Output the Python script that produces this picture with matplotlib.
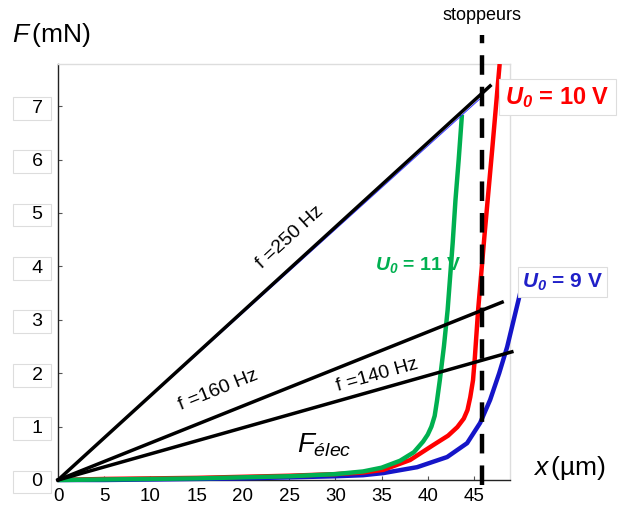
import matplotlib
matplotlib.use("Agg")
import matplotlib.pyplot as plt

plt.rcParams['font.family'] = ['Liberation Sans', 'DejaVu Sans']
plt.rcParams['mathtext.fontset'] = 'custom'
plt.rcParams['mathtext.rm'] = 'Liberation Sans'
plt.rcParams['mathtext.it'] = 'Liberation Sans:italic'
plt.rcParams['mathtext.bf'] = 'Liberation Sans:bold:italic'

# ---- data ----
x_ticks = [0, 5, 10, 15, 20, 25, 30, 35, 40, 45]
y_ticks = [0, 1, 2, 3, 4, 5, 6, 7]

# U0 = 11 V (green)
x_11 = [0, 5, 10, 15, 20, 25, 30, 33, 35, 37, 38.5, 39.5, 40.0, 40.4, 40.75, 41.0, 41.3, 41.75, 42.15, 42.7, 43.0, 43.35, 43.7]
y_11 = [0, 0.01, 0.02, 0.03, 0.05, 0.07, 0.11, 0.16, 0.23, 0.36, 0.52, 0.72, 0.85, 1.0, 1.2, 1.48, 1.86, 2.5, 3.18, 4.44, 5.24, 6.0, 6.84]

# U0 = 10 V (red)
x_10 = [0, 5, 10, 15, 20, 25, 30, 33, 35.2, 38.1, 40.6, 42.2, 43.2, 43.9, 44.3, 44.6, 44.9, 45.1, 45.45, 46.16, 46.97, 47.78]
y_10 = [0, 0.02, 0.03, 0.04, 0.06, 0.08, 0.11, 0.14, 0.19, 0.375, 0.655, 0.83, 0.99, 1.15, 1.31, 1.55, 1.87, 2.3, 3.18, 4.62, 6.18, 7.79]

# U0 = 9 V (blue)
x_9 = [0, 5, 10, 15, 20, 25, 30, 33, 35.2, 38.85, 42.1, 44.26, 45.67, 46.75, 47.73, 48.59, 50.0]
y_9 = [0, 0.0, 0.01, 0.02, 0.03, 0.05, 0.07, 0.09, 0.13, 0.24, 0.43, 0.69, 1.07, 1.5, 2.0, 2.49, 3.5]

# mechanical restoring lines (start at origin)
f_labels = ['f =250 Hz', 'f =160 Hz', 'f =140 Hz']
f_x_end = [46.75, 48.05, 49.1]
f_y_end = [7.38, 3.33, 2.40]
# thin blue trace under the 250 Hz line
thin_x = [0, 45.6]
thin_y = [0, 7.13]

stopper_x = 45.9

# ---- figure ----
fig = plt.figure(figsize=(6.23, 5.08), dpi=100)
ax = fig.add_axes([58/623, 1 - 480/508, (510-58)/623, (480-64)/508])
ax.set_xlim(0, 48.9)
ax.set_ylim(0, 7.79)

for s in ['left', 'bottom']:
    ax.spines[s].set_color('#222222')
    ax.spines[s].set_linewidth(1.0)
for s in ['top', 'right']:
    ax.spines[s].set_color('#dddddd')
    ax.spines[s].set_linewidth(1.0)

ax.set_xticks(x_ticks)
ax.set_xticklabels([str(v) for v in x_ticks])
ax.set_yticks(y_ticks)
ax.set_yticklabels(['   %d ' % v for v in y_ticks])
ax.tick_params(axis='both', direction='in', length=3, width=0.8, color='#555555')
ax.tick_params(axis='x', labelsize=13.5, pad=6)
ax.tick_params(axis='y', labelsize=14, pad=7)
for lab in ax.get_yticklabels():
    lab.set_bbox(dict(boxstyle='square,pad=0.15', facecolor='white', edgecolor='#dddddd', linewidth=0.8))

# curves
kw = dict(lw=3.2, solid_capstyle='butt', solid_joinstyle='round')
ax.plot(x_9, y_9, color='#1515c8', clip_on=False, zorder=3, **kw)
ax.plot(x_10, y_10, color='#ff0000', clip_on=True, zorder=3.1, **kw)
ax.plot(x_11, y_11, color='#00b050', clip_on=False, zorder=3.2, **kw)

ax.plot(thin_x, thin_y, color='#3030ff', lw=0.7, zorder=3.5)
for xe, ye in zip(f_x_end, f_y_end):
    ax.plot([0, xe], [0, ye], color='black', lw=2.5, clip_on=False, zorder=4)

# stopper dashed line
ax.plot([stopper_x, stopper_x], [-0.1, 8.33], color='black', lw=3.2,
        dashes=(4.4, 2.7), clip_on=False, zorder=5)
ax.text(stopper_x, 8.69, 'stoppeurs', ha='center', va='center', fontsize=13,
        clip_on=False)

# line labels
ax.text(25.1, 4.55, f_labels[0], rotation=42.4, ha='center', va='center',
        rotation_mode='anchor', fontsize=14)
ax.text(17.3, 1.69, f_labels[1], rotation=21.8, ha='center', va='center',
        rotation_mode='anchor', fontsize=14)
ax.text(34.6, 1.97, f_labels[2], rotation=15.7, ha='center', va='center',
        rotation_mode='anchor', fontsize=14)

ax.text(25.9, 0.52, r'$F_{élec}$', fontsize=20, ha='left', va='baseline')

ax.text(48.4, 7.17, r'$\mathbf{U_0}$ = 10 V', color='#ff0000', fontsize=17,
        fontweight='bold', ha='left', va='center', clip_on=False, zorder=6,
        bbox=dict(boxstyle='square,pad=0.25', facecolor='white', edgecolor='#dddddd', linewidth=0.8))
ax.text(34.3, 4.03, r'$\mathbf{U_0}$ = 11 V', color='#00b050', fontsize=14,
        fontweight='bold', ha='left', va='center', zorder=6)
ax.text(50.2, 3.71, r'$\mathbf{U_0}$ = 9 V', color='#2020c8', fontsize=15,
        fontweight='bold', ha='left', va='center', clip_on=False, zorder=6,
        bbox=dict(boxstyle='square,pad=0.2', facecolor='white', edgecolor='#dddddd', linewidth=0.8))

# axis titles
fig.text(12/623, 1 - 42/508, r'$F\,$(mN)', fontsize=19, ha='left', va='baseline')
fig.text(533/623, 1 - 475/508, r'$x\,$(µm)', fontsize=19, ha='left', va='baseline')

fig.savefig('out.png', dpi=100)
